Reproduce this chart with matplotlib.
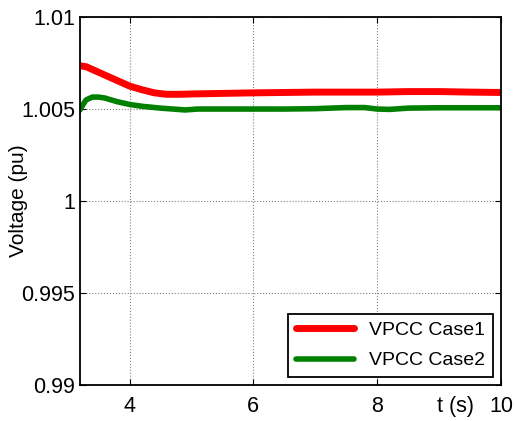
import matplotlib.pyplot as plt

plt.rcParams['font.family'] = ['Liberation Sans', 'DejaVu Sans']

# case 1 (red)
t1 = [3.2, 3.3, 3.4, 3.5, 3.7, 3.9, 4.0, 4.2, 4.4, 4.6, 4.8, 5.0, 5.5,
      6.0, 6.5, 7.0, 7.5, 8.0, 8.5, 9.0, 9.5, 10.0]
v1 = [1.00735, 1.00730, 1.00715, 1.00700, 1.00670, 1.00640, 1.00625,
      1.00605, 1.00588, 1.00580, 1.00580, 1.00582, 1.00585, 1.00588,
      1.00590, 1.00592, 1.00592, 1.00592, 1.00595, 1.00595, 1.00592, 1.00590]

# case 2 (green)
t2 = [3.2, 3.25, 3.3, 3.4, 3.5, 3.6, 3.8, 4.0, 4.2, 4.5, 4.7, 4.9, 5.1,
      5.5, 6.0, 6.5, 7.0, 7.5, 7.8, 8.0, 8.2, 8.5, 9.0, 9.5, 10.0]
v2 = [1.00495, 1.00525, 1.00550, 1.00565, 1.00565, 1.00560, 1.00540,
      1.00525, 1.00515, 1.00505, 1.00500, 1.00495, 1.00500, 1.00500,
      1.00500, 1.00500, 1.00502, 1.00508, 1.00508, 1.00500, 1.00498,
      1.00505, 1.00507, 1.00507, 1.00507]

xticks = [4, 6, 8, 10]
yticks = [0.99, 0.995, 1.0, 1.005, 1.01]
ytick_labels = ['0.99', '0.995', '1', '1.005', '1.01']

fig = plt.figure(figsize=(5.16, 4.21), dpi=100)
ax = fig.add_axes([0.155, 0.0855, 0.816, 0.874])

ax.plot(t1, v1, color='#ff0000', lw=5, label='VPCC Case1', solid_capstyle='round')
ax.plot(t2, v2, color='#008000', lw=4, label='VPCC Case2', solid_capstyle='round')

ax.set_xlim(3.2, 10)
ax.set_ylim(0.99, 1.01)
ax.set_xticks(xticks)
ax.set_xticklabels([str(x) for x in xticks])
ax.set_yticks(yticks)
ax.set_yticklabels(ytick_labels)
ax.tick_params(direction='in', top=True, right=True, labelsize=15.5, length=4)
ax.tick_params(axis='x', pad=8)
ax.grid(True, color='#808080', linestyle=':', linewidth=0.8)
for s in ax.spines.values():
    s.set_linewidth(1.3)

ax.set_ylabel('Voltage (pu)', fontsize=15)
ax.yaxis.set_label_coords(-0.123, 0.5)
ax.text(0.893, -0.03, 't (s)', transform=ax.transAxes, ha='center', va='top', fontsize=15.5)

leg = ax.legend(loc='lower right', fontsize=14, fancybox=False, edgecolor='black',
                framealpha=1, handlelength=3, borderaxespad=0.4, labelspacing=0.65)
leg.get_frame().set_linewidth(1.3)

plt.savefig('out.png')
